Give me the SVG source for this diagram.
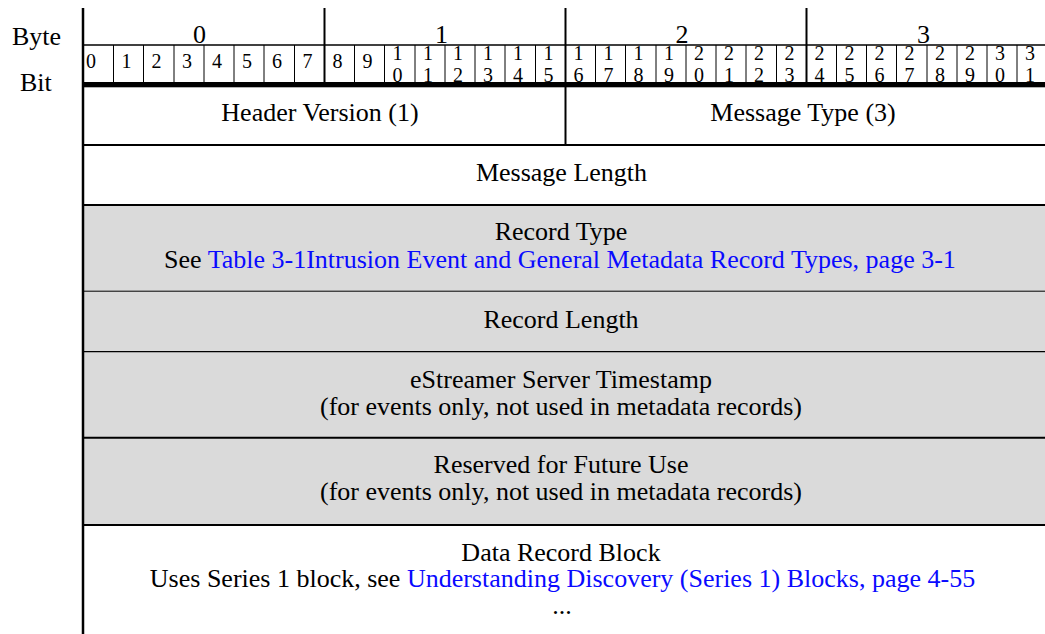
<svg xmlns="http://www.w3.org/2000/svg" width="1045" height="634" viewBox="0 0 1045 634" font-family="'Liberation Serif', 'Times New Roman', serif">
<style>
text{font-family:"Liberation Serif","Times New Roman",serif;fill:#000}
.t{font-family:"Liberation Serif","Times New Roman",serif;font-size:26px;text-anchor:middle}
.lbl{font-family:"Liberation Serif","Times New Roman",serif;font-size:26px}
.bd{font-family:"Liberation Serif","Times New Roman",serif;font-size:20px;text-anchor:middle}
.lnk{fill:#0a0aff}
.thin{stroke:#000;stroke-width:1}
.mid{stroke:#000;stroke-width:1.3}
.thk{stroke:#000;stroke-width:2}
</style>
<rect x="0" y="0" width="1045" height="634" fill="#fff"/>
<rect x="83" y="205" width="962" height="320" fill="#dadada"/>
<g id="labels">
<text class="lbl" x="12" y="45">Byte</text>
<text class="lbl" x="20" y="91">Bit</text>
</g>
<g id="bytes">
<text class="t" x="199.5" y="43">0</text>
<text class="t" x="441.5" y="43">1</text>
<text class="t" x="682" y="43">2</text>
<text class="t" x="923.5" y="43">3</text>
</g>
<g id="bits">
<text class="bd" x="91" y="68">0</text>
<text class="bd" x="126.5" y="68">1</text>
<text class="bd" x="156.5" y="68">2</text>
<text class="bd" x="187" y="68">3</text>
<text class="bd" x="217" y="68">4</text>
<text class="bd" x="247" y="68">5</text>
<text class="bd" x="277" y="68">6</text>
<text class="bd" x="307.5" y="68">7</text>
<text class="bd" x="337.5" y="68">8</text>
<text class="bd" x="367.5" y="68">9</text>
<text class="bd"><tspan x="397.5" y="60">1</tspan><tspan x="397.5" y="82">0</tspan></text>
<text class="bd"><tspan x="428" y="60">1</tspan><tspan x="428" y="82">1</tspan></text>
<text class="bd"><tspan x="458" y="60">1</tspan><tspan x="458" y="82">2</tspan></text>
<text class="bd"><tspan x="488" y="60">1</tspan><tspan x="488" y="82">3</tspan></text>
<text class="bd"><tspan x="518" y="60">1</tspan><tspan x="518" y="82">4</tspan></text>
<text class="bd"><tspan x="548.5" y="60">1</tspan><tspan x="548.5" y="82">5</tspan></text>
<text class="bd"><tspan x="578.5" y="60">1</tspan><tspan x="578.5" y="82">6</tspan></text>
<text class="bd"><tspan x="608.5" y="60">1</tspan><tspan x="608.5" y="82">7</tspan></text>
<text class="bd"><tspan x="638.5" y="60">1</tspan><tspan x="638.5" y="82">8</tspan></text>
<text class="bd"><tspan x="669" y="60">1</tspan><tspan x="669" y="82">9</tspan></text>
<text class="bd"><tspan x="699" y="60">2</tspan><tspan x="699" y="82">0</tspan></text>
<text class="bd"><tspan x="729" y="60">2</tspan><tspan x="729" y="82">1</tspan></text>
<text class="bd"><tspan x="759" y="60">2</tspan><tspan x="759" y="82">2</tspan></text>
<text class="bd"><tspan x="789.5" y="60">2</tspan><tspan x="789.5" y="82">3</tspan></text>
<text class="bd"><tspan x="819.5" y="60">2</tspan><tspan x="819.5" y="82">4</tspan></text>
<text class="bd"><tspan x="849.5" y="60">2</tspan><tspan x="849.5" y="82">5</tspan></text>
<text class="bd"><tspan x="879.5" y="60">2</tspan><tspan x="879.5" y="82">6</tspan></text>
<text class="bd"><tspan x="909.5" y="60">2</tspan><tspan x="909.5" y="82">7</tspan></text>
<text class="bd"><tspan x="940" y="60">2</tspan><tspan x="940" y="82">8</tspan></text>
<text class="bd"><tspan x="970" y="60">2</tspan><tspan x="970" y="82">9</tspan></text>
<text class="bd"><tspan x="1000" y="60">3</tspan><tspan x="1000" y="82">0</tspan></text>
<text class="bd"><tspan x="1030" y="60">3</tspan><tspan x="1030" y="82">1</tspan></text>
</g>
<g id="connectors">
<line class="thk" x1="83" y1="8" x2="83" y2="634" style="stroke-width:2.5"/>
<line class="thk" x1="83" y1="45" x2="1045" y2="45" style="stroke-width:1.7"/>
<line class="thk" x1="324.5" y1="8" x2="324.5" y2="83"/>
<line class="thk" x1="565.5" y1="8" x2="565.5" y2="145"/>
<line class="thk" x1="806.5" y1="8" x2="806.5" y2="83"/>
<g class="thin">
<line x1="113.5" y1="45" x2="113.5" y2="83"/>
<line x1="143.5" y1="45" x2="143.5" y2="83"/>
<line x1="174" y1="45" x2="174" y2="83"/>
<line x1="204" y1="45" x2="204" y2="83"/>
<line x1="234" y1="45" x2="234" y2="83"/>
<line x1="264" y1="45" x2="264" y2="83"/>
<line x1="294.5" y1="45" x2="294.5" y2="83"/>
<line x1="354.5" y1="45" x2="354.5" y2="83"/>
<line x1="384.5" y1="45" x2="384.5" y2="83"/>
<line x1="415" y1="45" x2="415" y2="83"/>
<line x1="445" y1="45" x2="445" y2="83"/>
<line x1="475" y1="45" x2="475" y2="83"/>
<line x1="505" y1="45" x2="505" y2="83"/>
<line x1="535.5" y1="45" x2="535.5" y2="83"/>
<line x1="595.5" y1="45" x2="595.5" y2="83"/>
<line x1="625.5" y1="45" x2="625.5" y2="83"/>
<line x1="656" y1="45" x2="656" y2="83"/>
<line x1="686" y1="45" x2="686" y2="83"/>
<line x1="716" y1="45" x2="716" y2="83"/>
<line x1="746" y1="45" x2="746" y2="83"/>
<line x1="776.5" y1="45" x2="776.5" y2="83"/>
<line x1="836.5" y1="45" x2="836.5" y2="83"/>
<line x1="866.5" y1="45" x2="866.5" y2="83"/>
<line x1="896.5" y1="45" x2="896.5" y2="83"/>
<line x1="927" y1="45" x2="927" y2="83"/>
<line x1="957" y1="45" x2="957" y2="83"/>
<line x1="987" y1="45" x2="987" y2="83"/>
<line x1="1017" y1="45" x2="1017" y2="83"/>
</g>
<rect x="83" y="82" width="962" height="5.3" fill="#000"/>
<line class="thk" x1="83" y1="145" x2="1045" y2="145"/>
<line class="thk" x1="83" y1="205" x2="1045" y2="205"/>
<line class="thin" x1="83" y1="291.2" x2="1045" y2="291.2"/>
<line class="mid" x1="83" y1="351.7" x2="1045" y2="351.7"/>
<line class="thk" x1="83" y1="437.7" x2="1045" y2="437.7"/>
<line class="thk" x1="83" y1="525" x2="1045" y2="525"/>
</g>
<g id="header-version"><text class="t" x="320" y="121">Header Version (1)</text></g>
<g id="message-type"><text class="t" x="803" y="121">Message Type (3)</text></g>
<g id="message-length"><text class="t" x="561.5" y="181">Message Length</text></g>
<g id="record-type">
<text class="t" x="561" y="240">Record Type</text>
<text class="t" x="560" y="267.5">See <tspan class="lnk">Table 3-1Intrusion Event and General Metadata Record Types, page 3-1</tspan></text>
</g>
<g id="record-length"><text class="t" x="561" y="327.5">Record Length</text></g>
<g id="server-timestamp">
<text class="t" x="561" y="387.5">eStreamer Server Timestamp</text>
<text class="t" x="561" y="414.5">(for events only, not used in metadata records)</text>
</g>
<g id="reserved">
<text class="t" x="561" y="473">Reserved for Future Use</text>
<text class="t" x="561" y="500">(for events only, not used in metadata records)</text>
</g>
<g id="data-record-block">
<text class="t" x="561" y="560.5">Data Record Block</text>
<text class="t" x="562.5" y="587">Uses Series 1 block, see <tspan class="lnk">Understanding Discovery (Series 1) Blocks, page 4-55</tspan></text>
<text class="t" x="562" y="614">...</text>
</g>
</svg>
